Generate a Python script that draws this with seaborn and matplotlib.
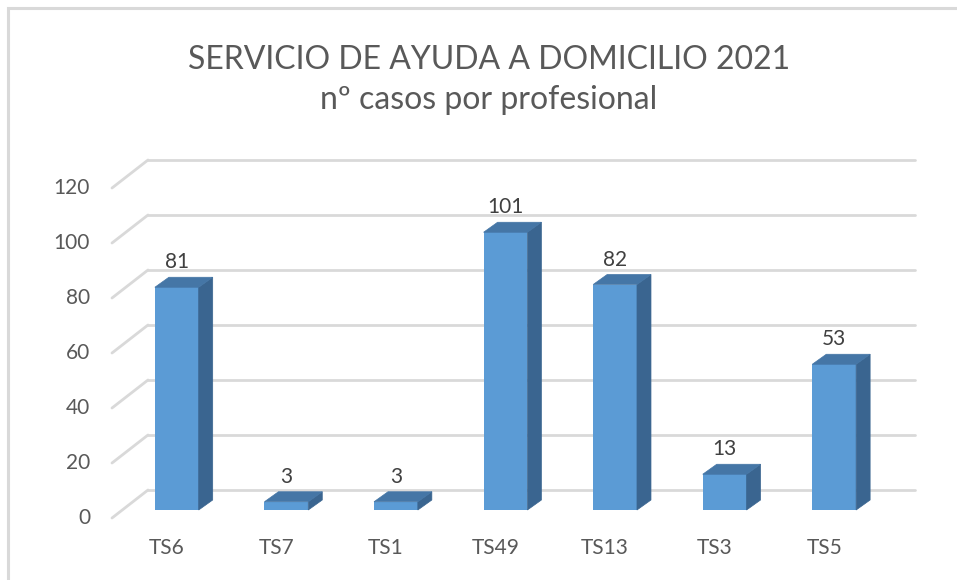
import numpy as np
import pandas as pd
import seaborn as sns
import matplotlib.pyplot as plt
import matplotlib.transforms as mtransforms
from matplotlib.patches import Polygon, Rectangle

# datos del gráfico
profesionales = ["TS6", "TS7", "TS1", "TS49", "TS13", "TS3", "TS5"]
casos = [81, 3, 3, 101, 82, 13, 53]
ticks_y = [0, 20, 40, 60, 80, 100, 120]

titulo = "SERVICIO DE AYUDA A DOMICILIO 2021"
subtitulo = "nº casos por profesional"

sns.set_style("white")
plt.rcParams["font.family"] = ["Lato", "DejaVu Sans"]

W, H = 957, 580
fig = plt.figure(figsize=(W / 100, H / 100), dpi=100)


def px(x, y):
    # pixeles (origen arriba a la izquierda) -> coordenadas de figura
    return x / W, 1 - y / H


# borde del gráfico
fig.patches.append(Rectangle(px(8, 1000), 2000 / W, 992 / H, transform=fig.transFigure,
                             fill=False, edgecolor="#D9D9D9", linewidth=2.2))

left, bottom = px(122, 510)
right, top = px(889, 180)
ax = fig.add_axes([left, bottom, right - left, top - bottom])

df = pd.DataFrame({"profesional": profesionales, "casos": casos})
sns.barplot(data=df, x="profesional", y="casos", color="#5B9BD5", width=0.40,
            saturation=1, linewidth=0, ax=ax, zorder=3)
ax.set_ylim(0, 120)
ax.set_xlim(-0.5, len(profesionales) - 0.5)
ax.axis("off")


def offset(dx, dy):
    return mtransforms.ScaledTranslation(dx / 100, dy / 100, fig.dpi_scale_trans)


blend = mtransforms.blended_transform_factory(ax.transAxes, ax.transData)
back = blend + offset(26, 20)
front = blend + offset(-10, -8)

# pared del fondo y suelo (líneas de cuadrícula)
for v in ticks_y:
    ax.plot([0, 1], [v, v], transform=back, color="#D9D9D9", lw=2, zorder=0,
            clip_on=False)
    p0 = front.transform((0, v))
    p1 = back.transform((0, v))
    ax.plot([p0[0], p1[0]], [p0[1], p1[1]], transform=mtransforms.IdentityTransform(),
            color="#D9D9D9", lw=2, zorder=0, clip_on=False)
    ax.text(0, v, str(v), transform=blend + offset(-32, -8), ha="right", va="center",
            fontsize=15, color="#595959")

# caras laterales y superiores de las barras (efecto 3D)
ddx, ddy = 14, 10
for p, valor in zip(ax.patches, casos):
    x0, x1 = p.get_x(), p.get_x() + p.get_width()
    a = ax.transData.transform((x0, valor))
    b = ax.transData.transform((x1, valor))
    c = ax.transData.transform((x1, 0))
    lado = [b, b + (ddx, ddy), c + (ddx, ddy), c]
    tapa = [a, a + (ddx, ddy), b + (ddx, ddy), b]
    for pts, col in [(lado, "#3A6590"), (tapa, "#4576A6")]:
        fig.patches.append(Polygon(pts, closed=True, transform=mtransforms.IdentityTransform(),
                                   facecolor=col, edgecolor=col, lw=0.5, zorder=4))
    ax.text((x0 + x1) / 2, valor, str(valor), transform=ax.transData + offset(0, 25),
            ha="center", va="center", fontsize=15, color="#404040")

# etiquetas de categoría
for i, nombre in enumerate(profesionales):
    ax.text(i, 0, nombre, transform=ax.transData + offset(-10, -38), ha="center",
            va="center", fontsize=15, color="#595959")

fig.text(*px(489, 60), titulo, ha="center", va="center", fontsize=23, color="#595959")
fig.text(*px(489, 100), subtitulo, ha="center", va="center", fontsize=23, color="#595959")

fig.savefig("out.png", dpi=100)
